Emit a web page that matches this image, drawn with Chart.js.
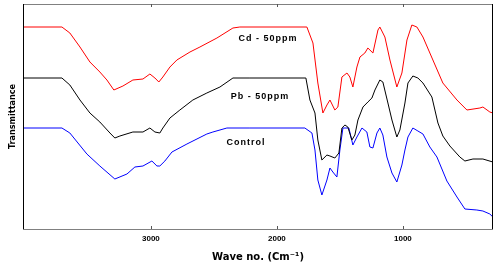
<!DOCTYPE html>
<html>
<head>
<meta charset="utf-8">
<script src="https://cdn.jsdelivr.net/npm/chart.js@4.4.0/dist/chart.umd.min.js"></script>
<style>
  body { margin: 0; background: #fff; }
</style>
</head>
<body>
<canvas id="myChart" width="500" height="268"></canvas>
<script>
// wave numbers (cm-1) and transmittance (arbitrary units)
const cdWave = [4015, 3706, 3643, 3563, 3484, 3405, 3349, 3294, 3222, 3143, 3063, 3008, 2968, 2937, 2905, 2849, 2794, 2690, 2611, 2476, 2349, 2294, 1762, 1714, 1675, 1635, 1603, 1579, 1540, 1516, 1484, 1444, 1421, 1397, 1365, 1341, 1302, 1278, 1238, 1198, 1183, 1143, 1103, 1048, 1008, 968, 929, 889, 841, 762, 683, 571, 492, 389, 365, 310, 286];
const cdT = [202, 202, 196, 182, 167, 157, 149, 139, 143, 149, 150, 155, 151, 147, 152, 162, 169, 177, 182, 191, 201, 202, 202, 186, 146, 116, 124, 129, 119, 122, 152, 156, 152, 142, 162, 172, 176, 181, 176, 199, 202, 192, 169, 142, 156, 189, 204, 202, 192, 169, 146, 129, 119, 121, 122, 117, 116];

const pbWave = [4015, 3706, 3643, 3563, 3484, 3405, 3325, 3286, 3246, 3143, 3063, 3008, 2968, 2929, 2905, 2849, 2770, 2667, 2556, 2452, 2349, 2214, 1770, 1738, 1698, 1675, 1643, 1603, 1579, 1540, 1508, 1484, 1460, 1437, 1405, 1381, 1357, 1317, 1278, 1246, 1222, 1183, 1159, 1119, 1087, 1048, 1024, 984, 960, 921, 881, 841, 770, 722, 683, 627, 548, 508, 444, 365, 286];
const pbT = [151, 151, 144, 129, 116, 107, 96, 91, 93, 97, 97, 101, 97, 96, 101, 111, 119, 129, 136, 142, 151, 151, 151, 129, 116, 89, 69, 74, 73, 71, 76, 101, 104, 102, 89, 94, 109, 122, 127, 131, 139, 149, 147, 126, 109, 92, 99, 126, 146, 153, 151, 146, 132, 106, 93, 83, 72, 68, 70, 70, 67];

const ctrlWave = [4015, 3706, 3643, 3508, 3405, 3286, 3190, 3127, 3063, 2992, 2952, 2929, 2889, 2833, 2714, 2556, 2508, 2397, 2214, 1778, 1722, 1698, 1675, 1643, 1603, 1579, 1556, 1524, 1500, 1476, 1452, 1429, 1397, 1365, 1325, 1286, 1262, 1238, 1206, 1183, 1159, 1127, 1087, 1048, 1008, 984, 960, 921, 881, 841, 786, 730, 651, 571, 508, 413, 365, 310, 286];
const ctrlT = [101, 101, 96, 75, 63, 50, 55, 62, 63, 68, 63, 63, 68, 77, 85, 95, 97, 101, 101, 101, 96, 79, 49, 34, 49, 61, 57, 52, 79, 101, 101, 101, 84, 92, 101, 97, 82, 81, 96, 101, 94, 72, 56, 47, 64, 79, 92, 101, 98, 95, 82, 72, 48, 32, 20, 19, 18, 15, 12];

const xTicks = [3000, 2000, 1000];

const toPoints = (xs, ys) => xs.map((x, i) => ({ x: x, y: ys[i] }));

// series names written on the plot, placed in data coordinates
const seriesLabels = [
  { text: "Cd - 50ppm", x: 2071, y: 190 },
  { text: "Pb - 50ppm", x: 2135, y: 132 },
  { text: "Control", x: 2246, y: 86 },
];

const frameAndLabels = {
  id: 'frameAndLabels',
  afterDraw(chart) {
    const { ctx, chartArea: a, scales } = chart;
    ctx.save();
    // frame
    ctx.lineWidth = 1;
    ctx.strokeStyle = '#808080';
    ctx.beginPath();
    ctx.moveTo(a.left, a.top + 0.5); ctx.lineTo(a.right, a.top + 0.5);
    ctx.moveTo(a.left, a.bottom + 0.5); ctx.lineTo(a.right, a.bottom + 0.5);
    ctx.stroke();
    ctx.strokeStyle = '#000';
    ctx.beginPath();
    ctx.moveTo(a.left + 0.5, a.top); ctx.lineTo(a.left + 0.5, a.bottom);
    ctx.moveTo(a.right - 0.5, a.top); ctx.lineTo(a.right - 0.5, a.bottom);
    ctx.stroke();
    // inward tick marks top and bottom
    ctx.strokeStyle = '#555';
    xTicks.forEach((t) => {
      const px = Math.round(scales.x.getPixelForValue(t)) + 0.5;
      ctx.beginPath();
      ctx.moveTo(px, a.bottom); ctx.lineTo(px, a.bottom - 3);
      ctx.moveTo(px, a.top); ctx.lineTo(px, a.top + 3);
      ctx.stroke();
    });
    // series names
    ctx.fillStyle = '#000';
    ctx.font = 'bold 9px "Liberation Sans", Arial, sans-serif';
    ctx.letterSpacing = '1px';
    ctx.textAlign = 'center';
    ctx.textBaseline = 'middle';
    seriesLabels.forEach((l) => {
      ctx.fillText(l.text, scales.x.getPixelForValue(l.x), scales.y.getPixelForValue(l.y));
    });
    ctx.restore();
  }
};

const ctx = document.getElementById("myChart");

const myChart = new Chart(ctx, {
  type: "line",
  plugins: [frameAndLabels],
  data: {
    datasets: [
      {
        label: "Cd - 50ppm",
        data: toPoints(cdWave, cdT),
        borderColor: "#ff0000",
        borderWidth: 1,
        pointRadius: 0,
        tension: 0,
      },
      {
        label: "Pb - 50ppm",
        data: toPoints(pbWave, pbT),
        borderColor: "#000000",
        borderWidth: 1,
        pointRadius: 0,
        tension: 0,
      },
      {
        label: "Control",
        data: toPoints(ctrlWave, ctrlT),
        borderColor: "#0000ff",
        borderWidth: 1,
        pointRadius: 0,
        tension: 0,
      },
    ],
  },
  options: {
    responsive: false,
    animation: false,
    layout: {
      padding: { top: 4, right: 7, left: 0, bottom: 0 },
    },
    plugins: {
      legend: { display: false },
      tooltip: { enabled: false },
    },
    scales: {
      x: {
        type: 'linear',
        reverse: true,
        min: 285,
        max: 4015,
        afterBuildTicks: (scale) => {
          scale.ticks = xTicks.map((v) => ({ value: v }));
        },
        afterFit: (scale) => { scale.height = 39; },
        grid: { display: false, drawTicks: false },
        border: { display: false },
        ticks: {
          padding: 5,
          color: '#000',
          font: { size: 8, weight: 'bold', family: '"Liberation Sans", Arial, sans-serif' },
          callback: (v) => v,
        },
        title: {
          display: true,
          text: 'Wave no. (Cm⁻¹)',
          color: '#000',
          font: { size: 10, weight: 'bold', family: '"DejaVu Sans", sans-serif' },
          padding: { top: 0, bottom: 5 },
        },
      },
      y: {
        min: 0,
        max: 225,
        afterFit: (scale) => { scale.width = 23; },
        grid: { display: false, drawTicks: false },
        border: { display: false },
        ticks: { display: false },
        title: {
          display: true,
          text: 'Transmittance',
          color: '#000',
          font: { size: 9, weight: 'bold', family: '"DejaVu Sans Condensed", "DejaVu Sans", sans-serif' },
          padding: { top: 7, bottom: 0 },
        },
      },
    },
  },
});
</script>
</body>
</html>
